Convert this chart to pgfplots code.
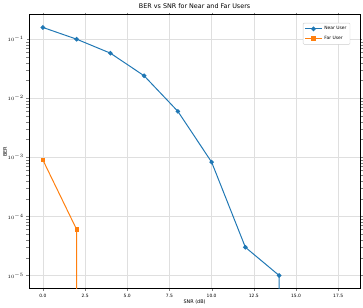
\documentclass[border=0pt]{standalone}
\usepackage{fontspec}
\setmainfont{DejaVu Sans}
\usepackage{pgfplots}
\pgfplotsset{compat=1.18}
\definecolor{tabblue}{HTML}{1F77B4}
\definecolor{taborange}{HTML}{FF7F0E}
\begin{document}
\begin{tikzpicture}
\begin{axis}[
  at={(0,0)}, anchor=south west,
  scale only axis,
  width=336pt, height=278pt,
  ymode=log,
  xmin=-0.82, xmax=18.8,
  ymin=6.0e-6, ymax=0.26,
  xtick={0,2.5,5,7.5,10,12.5,15,17.5},
  xticklabels={0.0,2.5,5.0,7.5,10.0,12.5,15.0,17.5},
  ytick={1e-5,1e-4,1e-3,1e-2,1e-1},
  grid=major,
  major grid style={gray!25, line width=0.6pt},
  tick label style={font=\fontsize{4.5}{5}\selectfont},
  xlabel={SNR (dB)}, ylabel={BER},
  label style={font=\fontsize{5}{6}\selectfont},
  xlabel style={yshift=4pt},
  ylabel style={yshift=-6pt},
  title={BER vs SNR for Near and Far Users},
  title style={font=\fontsize{6.5}{7.5}\selectfont, yshift=-3pt},
  tick align=outside,
  major tick length=2pt,
  axis line style={black, line width=0.5pt},
  legend pos=north east,
  legend style={font=\fontsize{4.5}{5.5}\selectfont, draw=gray!40, rounded corners=1pt, inner sep=1.5pt, row sep=1pt},
  legend cell align=left,
  clip=true,
]
\addplot[color=tabblue, line width=1pt, mark=*, mark size=1.8pt] coordinates {
  (0,0.158) (2,0.100) (4,0.058) (6,0.024) (8,0.0060) (10,0.00083) (12,3.0e-5) (14,1.0e-5) (14,1e-8)
};
\addlegendentry{Near User}
\addplot[color=taborange, line width=1pt, mark=square*, mark size=1.6pt] coordinates {
  (0,0.00090) (2,6.0e-5) (2,1e-8)
};
\addlegendentry{Far User}
\end{axis}
\end{tikzpicture}
\end{document}
